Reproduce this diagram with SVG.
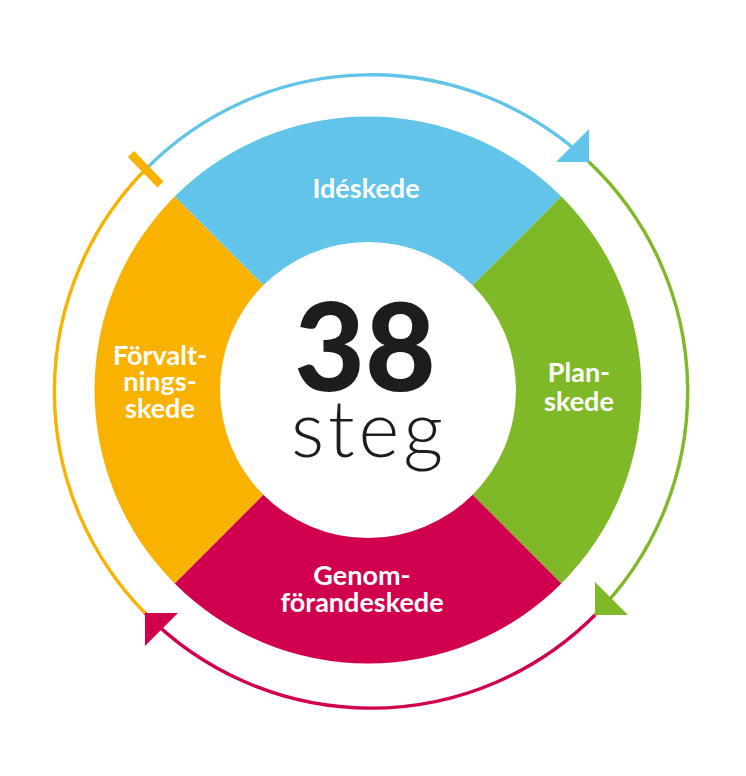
<svg xmlns="http://www.w3.org/2000/svg" width="746" height="776" viewBox="0 0 746 776">
  <style>
    .lbl { font-family: Lato, "Liberation Sans", sans-serif; font-weight: 700; font-size: 27px; fill: #ffffff; text-anchor: middle; }
    .arc { fill: none; stroke-width: 3.4; }
    .blue { fill: #61C4E8; }
    .green { fill: #80B927; }
    .red { fill: #D1004F; }
    .orange { fill: #F9B200; }
  </style>
  <rect width="746" height="776" fill="#ffffff"/>

  <g id="ideskede">
    <path class="blue" d="M174.61,196.61 A273.5,273.5 0 0 1 561.39,196.61 L472.65,285.35 A148,148 0 0 0 263.35,285.35 Z"/>
    <text class="lbl" x="366" y="198">Idéskede</text>
  </g>
  <g id="planskede">
    <path class="green" d="M561.39,196.61 A273.5,273.5 0 0 1 561.39,583.39 L472.65,494.65 A148,148 0 0 0 472.65,285.35 Z"/>
    <text class="lbl" x="579" y="382">Plan-</text>
    <text class="lbl" x="579" y="411">skede</text>
  </g>
  <g id="genomforandeskede">
    <path class="red" d="M561.39,583.39 A273.5,273.5 0 0 1 174.61,583.39 L263.35,494.65 A148,148 0 0 0 472.65,494.65 Z"/>
    <text class="lbl" x="362" y="585">Genom-</text>
    <text class="lbl" x="362" y="612">förandeskede</text>
  </g>
  <g id="forvaltningsskede">
    <path class="orange" d="M174.61,583.39 A273.5,273.5 0 0 1 174.61,196.61 L263.35,285.35 A148,148 0 0 0 263.35,494.65 Z"/>
    <text class="lbl" x="160" y="365">Förvalt-</text>
    <text class="lbl" x="160" y="391">nings-</text>
    <text class="lbl" x="160" y="418">skede</text>
  </g>
  <g id="center">
    <text x="365" y="391" text-anchor="middle" font-family="Lato, 'Liberation Sans', sans-serif" font-weight="900" font-size="122" fill="#1D1D1B">38</text>
    <text x="369" y="457" text-anchor="middle" font-family="Lato, 'Liberation Sans', sans-serif" font-weight="300" font-size="78" letter-spacing="4" fill="#1D1D1B">steg</text>
  </g>

  <g id="connectors">
    <path class="arc" stroke="#61C4E8" d="M146,169 A316,316 0 0 1 589,162"/>
    <path class="arc" stroke="#80B927" d="M589,162 A316,316 0 0 1 595,615"/>
    <path class="arc" stroke="#D1004F" d="M595,615 A316,316 0 0 1 145,613"/>
    <path class="arc" stroke="#F9B200" d="M145,613 A316,316 0 0 1 146,169"/>
    <polygon class="blue" points="589,162 589,129 556,162"/>
    <polygon class="green" points="595,615 595,582 628,615"/>
    <polygon class="red" points="145,613 178,613 145,646"/>
    <line x1="131" y1="154" x2="160.5" y2="184.5" stroke="#F9B200" stroke-width="8.5"/>
  </g>
</svg>
